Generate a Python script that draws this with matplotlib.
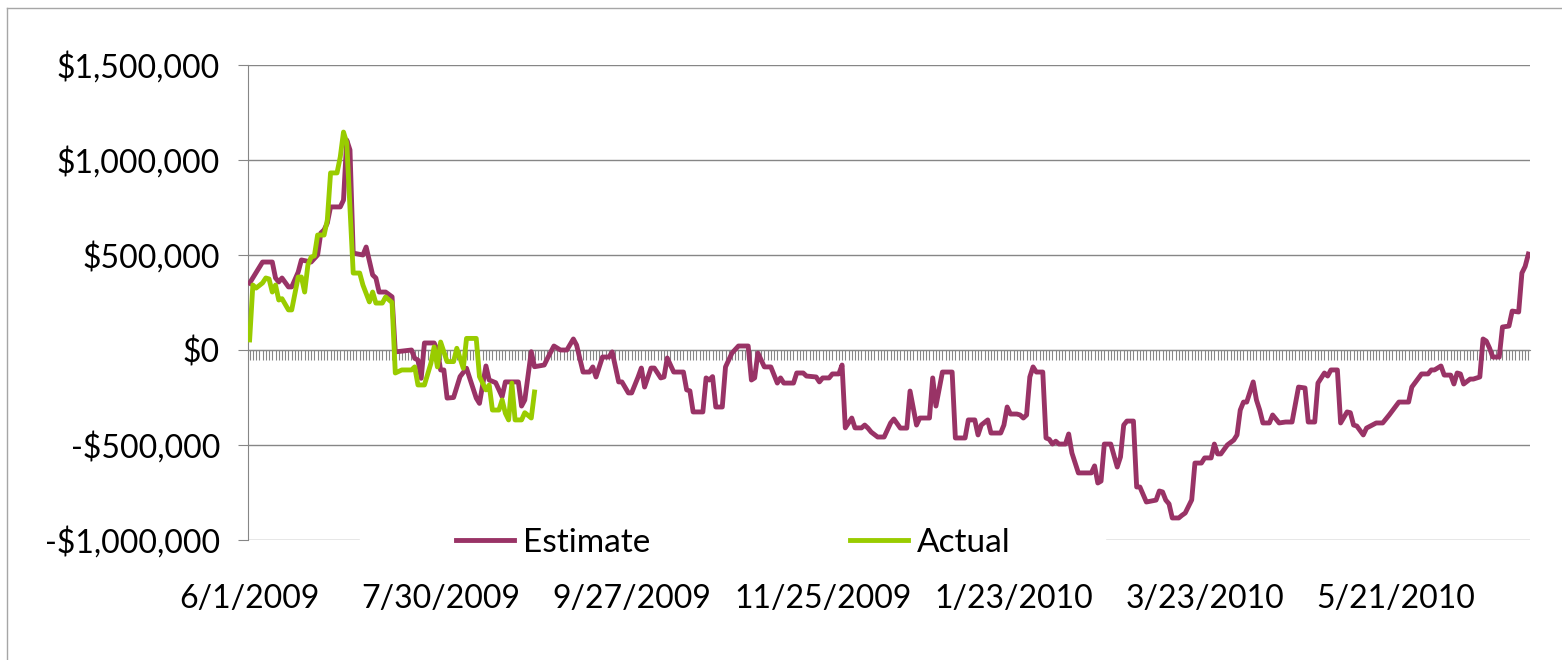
import matplotlib
matplotlib.use('Agg')
import matplotlib.pyplot as plt
import matplotlib.dates as mdates
from matplotlib.lines import Line2D
from matplotlib.patches import Rectangle
import pandas as pd

plt.rcParams['font.family'] = ['Lato', 'DejaVu Sans']

start = pd.Timestamp('2009-06-01')
end = pd.Timestamp('2010-07-01')

# days since 6/1/2009 and value in thousands of $
est_day = [0, 4, 7, 8, 9, 10, 12, 13, 15, 16, 19, 21, 22, 23, 24, 25, 28, 29, 30, 31,
           32, 35, 36, 38, 39, 40, 42, 44, 45, 50, 51, 52, 53, 54, 57, 58, 59, 60, 61, 63,
           65, 67, 68, 70, 71, 73, 74, 76, 78, 79, 83, 84, 85, 87, 88, 91, 92, 94, 96, 98,
           100, 101, 103, 105, 106, 107, 109, 111, 112, 114, 115, 117, 118, 120, 121, 122, 124, 125, 127, 128,
           129, 131, 134, 135, 136, 137, 140, 141, 142, 143, 144, 146, 147, 149, 151, 154, 155, 156, 157, 159,
           161, 163, 164, 165, 168, 169, 171, 172, 175, 176, 177, 179, 180, 182, 183, 184, 186, 187, 189, 190,
           191, 192, 194, 196, 198, 199, 201, 203, 204, 206, 207, 210, 211, 212, 214, 217, 218, 221, 222, 224,
           225, 226, 228, 229, 232, 233, 234, 235, 237, 238, 239, 240, 241, 242, 243, 245, 246, 247, 248, 249,
           250, 252, 253, 254, 256, 260, 261, 262, 263, 264, 266, 268, 269, 270, 271, 273, 274, 275, 277, 280,
           281, 282, 283, 284, 285, 287, 288, 289, 291, 292, 294, 295, 297, 298, 299, 300, 302, 304, 305, 306,
           307, 308, 309, 310, 311, 312, 313, 315, 316, 318, 320, 322, 324, 326, 327, 329, 330, 332, 333, 334,
           336, 337, 339, 340, 341, 342, 344, 345, 348, 350, 352, 355, 358, 359, 362, 364, 365, 366, 368, 369,
           371, 372, 373, 374, 375, 377, 378, 380, 381, 382, 383, 384, 386, 387, 389, 390, 392, 393, 394, 395]
est_val = [352, 463, 463, 379, 358, 379, 332, 332, 410, 474, 463, 500, 616, 632, 668, 753, 753, 789, 1105, 1053,
           510, 500, 542, 395, 379, 305, 305, 280, -10, 0, -44, -53, -149, 37, 37, 0, -105, -105, -253, -250,
           -140, -96, -149, -253, -281, -84, -158, -172, -246, -168, -168, -295, -263, -9, -88, -79, -44, 21, 0, 0,
           58, 26, -116, -116, -89, -142, -37, -37, -10, -168, -168, -226, -226, -142, -95, -195, -95, -95, -147, -142,
           -42, -116, -116, -210, -215, -326, -326, -147, -158, -140, -300, -300, -89, -16, 21, 21, -158, -147, -16, -89,
           -89, -174, -147, -174, -174, -121, -121, -137, -142, -168, -147, -147, -126, -126, -79, -410, -358, -410, -410, -395,
           -411, -432, -458, -458, -384, -363, -411, -411, -216, -395, -358, -358, -147, -295, -116, -116, -463, -463, -368, -368,
           -447, -395, -368, -437, -437, -395, -300, -337, -337, -342, -358, -342, -142, -89, -116, -116, -463, -470, -495, -480,
           -495, -495, -442, -542, -647, -647, -610, -700, -690, -495, -495, -616, -563, -395, -374, -374, -721, -721, -800, -790,
           -742, -747, -790, -810, -884, -884, -870, -858, -789, -595, -595, -568, -568, -495, -547, -547, -500, -474, -447, -316,
           -274, -274, -221, -168, -263, -316, -384, -384, -342, -384, -379, -379, -195, -200, -379, -379, -174, -121, -137, -105,
           -105, -384, -326, -330, -395, -400, -447, -411, -384, -384, -342, -274, -274, -195, -126, -126, -105, -105, -84, -132,
           -132, -179, -121, -126, -179, -153, -153, -142, 58, 47, 10, -37, -37, 121, 126, 205, 200, 405, 440, 505]

act_day = [0, 1, 2, 4, 5, 6, 7, 8, 9, 10, 12, 13, 15, 16, 17, 18, 19, 20, 21, 23,
           24, 25, 27, 28, 29, 30, 32, 34, 35, 37, 38, 39, 41, 42, 44, 45, 47, 50, 51, 52,
           54, 56, 57, 58, 59, 61, 63, 64, 66, 67, 70, 71, 73, 74, 75, 77, 78, 79, 80, 81,
           82, 84, 85, 87, 88]
act_val = [53, 342, 326, 353, 379, 374, 305, 342, 263, 270, 211, 211, 384, 384, 305, 447, 489, 495, 605, 605,
           684, 932, 932, 1016, 1147, 1090, 405, 405, 342, 253, 305, 247, 247, 279, 250, -121, -105, -105, -89, -184,
           -184, -70, 16, -89, 42, -61, -61, 9, -96, 61, 61, -140, -210, -184, -316, -316, -263, -333, -368, -174,
           -368, -368, -330, -358, -221]

x_labels = ['6/1/2009', '7/30/2009', '9/27/2009', '11/25/2009', '1/23/2010', '3/23/2010', '5/21/2010']
y_ticks = [-1000000, -500000, 0, 500000, 1000000, 1500000]

est_dates = start + pd.to_timedelta(est_day, unit='D')
act_dates = start + pd.to_timedelta(act_day, unit='D')
est = [v * 1000 for v in est_val]
act = [v * 1000 for v in act_val]

grey = '#868686'

fig = plt.figure(figsize=(15.62, 6.60), dpi=100)
ax = fig.add_axes([248 / 1562, 1 - 540 / 660, 1282 / 1562, 475 / 660])

ax.plot(est_dates, est, color='#993366', lw=3.5, label='Estimate', solid_joinstyle='round', zorder=3)
ax.plot(act_dates, act, color='#99CC00', lw=3.5, label='Actual', solid_joinstyle='round', zorder=4)

half = pd.Timedelta(hours=12)
ax.set_xlim(start - half, end + half)
ax.set_ylim(-1000000, 1500000)

ax.set_yticks(y_ticks)
ax.yaxis.set_major_formatter(lambda v, p: ('-$' if v < 0 else '$') + f'{abs(v):,.0f}')
ax.grid(axis='y', color=grey, lw=1.0)
ax.set_axisbelow(True)

ax.set_xticks(pd.to_datetime(x_labels, format='%m/%d/%Y'))
ax.set_xticklabels(x_labels)

for s in ['top', 'right', 'bottom']:
    ax.spines[s].set_visible(False)
ax.spines['left'].set_color(grey)
ax.tick_params(axis='y', direction='out', length=7.2, color=grey, labelsize=23, pad=13)
ax.tick_params(axis='x', length=0, labelsize=23, pad=32)

# horizontal axis crossing at zero with a tick for every day
zero_ax = ax.secondary_xaxis(0, transform=ax.transData)
zero_ax.spines['bottom'].set_color(grey)
zero_ax.set_xticks(mdates.date2num(pd.date_range(start, end, freq='D')))
zero_ax.tick_params(axis='x', direction='out', length=7.2, width=0.8, color=grey, labelbottom=False)

ax.add_patch(Rectangle((112 / 1282, -0.012), 745 / 1282, 0.024, transform=ax.transAxes,
                       color='white', zorder=5, clip_on=False))
leg = ax.legend(loc='center', bbox_to_anchor=(485 / 1282, -0.006), ncol=2, fontsize=24,
                frameon=True, facecolor='white', edgecolor='none', framealpha=1,
                handlelength=1.75, handletextpad=0.25, columnspacing=6.0, borderpad=0.2)
leg.set_zorder(6)

fig.add_artist(Line2D([7.5 / 1562, 7.5 / 1562], [0, 1 - 7.5 / 660], color='#A6A6A6', lw=1))
fig.add_artist(Line2D([7.5 / 1562, 1], [1 - 7.5 / 660, 1 - 7.5 / 660], color='#A6A6A6', lw=1))

fig.savefig('out.png', dpi=100)
